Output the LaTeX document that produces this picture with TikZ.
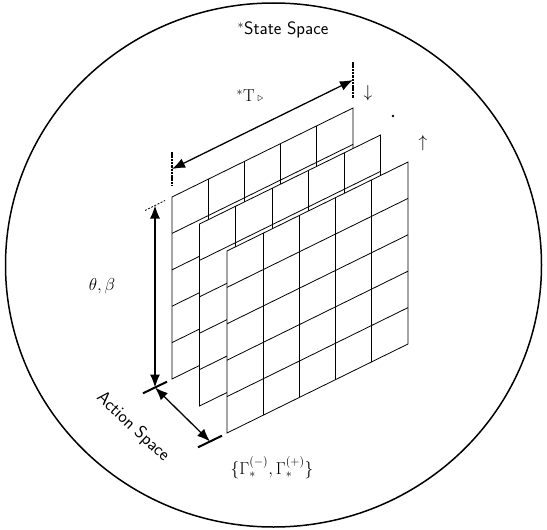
\documentclass[tikz,border=0pt]{standalone}
\usepackage{amsmath,amssymb}
\usetikzlibrary{arrows.meta, calc}
\tikzset{
  sheet/.style  = {draw=black, fill=white, line width=0.8pt},
  gridln/.style = {draw=black, line width=0.8pt},
  dim/.style    = {{Latex[length=13pt, width=10pt]}-{Latex[length=13pt, width=10pt]},
                   line width=1.3pt},
  tickd/.style  = {line width=1.8pt, dash pattern=on 2.5pt off 0.8pt},
  tickt/.style  = {line width=0.7pt, dash pattern=on 2pt off 1.5pt},
  ticks/.style  = {line width=2pt},
  lbl/.style    = {font=\fontsize{18}{21}\selectfont, inner sep=1pt},
}

\begin{document}
\begin{tikzpicture}[x=1pt, y=-1pt]
\useasboundingbox (0,0) rectangle (547,530);
\draw[line width=1.5pt] (273.5,265) ellipse [x radius=268, y radius=262];

% three stacked sheets, back to front
\foreach \s in {0,1,2}{
  \coordinate (o\s) at ($(172,197)+\s*(27.5,27)$);
  \path[sheet] (o\s) -- ++(181,-89) -- ++(0,182) -- ++(-181,89) -- cycle;
  \foreach \i in {1,...,4}{
    \draw[gridln] ($(o\s)+\i*(36.2,-17.8)$) -- ++(0,182);
    \draw[gridln] ($(o\s)+\i*(0,36.4)$) -- ++(181,-89);
  }
}

% dimension arrows
\coordinate (tA) at (172,169);
\coordinate (tB) at (353,80);
\draw[dim] (tA) -- (tB);
\draw[tickd] ($(tA)+(0,-17)$) -- ($(tA)+(0,17)$);
\draw[tickd] ($(tB)+(0,-18)$) -- ($(tB)+(0,18)$);

\coordinate (vA) at (155,205.5);
\coordinate (vB) at (155,387.5);
\coordinate (dB) at (210,441.5);
\draw[dim] (vA) -- (vB);
\draw[dim] (vB) -- (dB);
\draw[tickt] ($(vA)+(-10,5)$) -- ($(vA)+(10,-5)$);
\draw[ticks] ($(vB)+(-12,5.8)$) -- ($(vB)+(12,-5.8)$);
\draw[ticks] ($(dB)+(-12,5.8)$) -- ($(dB)+(12,-5.8)$);

% labels
\node[lbl] (ss) at (283,30) {\sffamily$^*$State Space};
\node[lbl] (tl) at (250,96) {$^{*}\mathrm{T}\,{\scriptstyle\triangleright}$};
\node[lbl] (tb) at (102,286) {$\theta, \beta$};
\node[lbl, rotate=-43] (as) at (133,427) {\sffamily Action Space};
\node[lbl] (gm) at (272,468) {$\{\Gamma_*^{(-)}, \Gamma_*^{(+)}\}$};
\node[lbl] (dn) at (368,93) {$\downarrow$};
\node[circle, fill, inner sep=0.9pt] (dt) at (393,116) {};
\node[lbl] (up) at (423,143) {$\uparrow$};
\end{tikzpicture}
\end{document}
